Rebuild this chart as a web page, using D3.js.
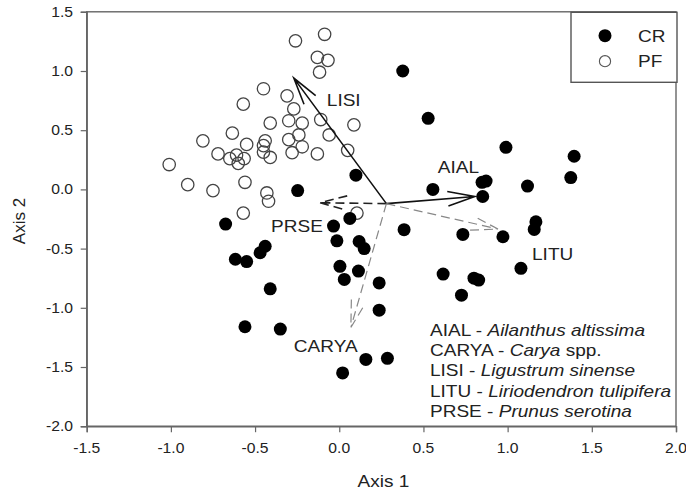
<!DOCTYPE html>
<html>
<head>
<meta charset="utf-8">
<script src="https://cdn.jsdelivr.net/npm/d3@7"></script>
<style>
  html, body { margin: 0; padding: 0; background: #fff; }
  svg { display: block; }
  text { font-family: Arial, "Liberation Sans", sans-serif; fill: #222; }
</style>
</head>
<body>
<svg id="chart" width="686" height="496"></svg>
<script>
// Ordination scores for the two stand types
const crAxis1 = [-0.675,-0.617,-0.55,-0.47,-0.44,-0.41,-0.56,-0.35,-0.034,0.063,-0.014,0.118,0.148,0.004,0.03,0.114,0.237,0.237,0.158,0.02,0.286,-0.247,0.099,0.385,0.377,0.528,0.99,1.395,1.375,0.556,0.848,0.872,0.852,1.118,0.734,0.972,1.168,1.158,1.079,0.617,0.80,0.828,0.726];
const crAxis2 = [-0.293,-0.59,-0.61,-0.535,-0.48,-0.84,-1.16,-1.18,-0.31,-0.245,-0.434,-0.44,-0.50,-0.65,-0.76,-0.69,-0.79,-1.02,-1.436,-1.55,-1.427,-0.01,0.12,-0.34,1.00,0.60,0.355,0.28,0.10,0.0,0.06,0.07,-0.06,0.028,-0.38,-0.40,-0.274,-0.338,-0.667,-0.715,-0.75,-0.766,-0.893];
const pfAxis1 = [-1.01,-0.90,-0.75,-0.81,-0.72,-0.635,-0.65,-0.61,-0.565,-0.60,-0.55,-0.56,-0.57,-0.57,-0.45,-0.44,-0.45,-0.45,-0.41,-0.41,-0.31,-0.27,-0.30,-0.22,-0.30,-0.24,-0.28,-0.22,-0.13,-0.11,-0.06,0.087,0.05,-0.26,-0.087,-0.13,-0.067,-0.117,-0.43,-0.42,0.105];
const pfAxis2 = [0.21,0.04,-0.01,0.41,0.30,0.475,0.26,0.29,0.26,0.22,0.38,0.06,-0.20,0.72,0.85,0.41,0.37,0.315,0.27,0.56,0.79,0.68,0.58,0.56,0.42,0.46,0.31,0.36,0.30,0.59,0.46,0.545,0.33,1.255,1.31,1.115,1.09,0.99,-0.03,-0.10,-0.20];

// Species vectors (biplot), all drawn from a shared origin
const vectorOrigin = [0.28, -0.12];
const vectorCodes = ["LISI", "AIAL", "LITU", "PRSE", "CARYA"];
const vectorAxis1 = [-0.27, 0.805, 0.943, -0.114, 0.069];
const vectorAxis2 = [0.94, -0.06, -0.335, -0.113, -1.166];
const vectorStyles = ["solid", "solid", "grayDash", "blackDash", "grayDash"];

// Species key
const keyCodes = ["AIAL", "CARYA", "LISI", "LITU", "PRSE"];
const keyNames = ["Ailanthus altissima", "Carya", "Ligustrum sinense", "Liriodendron tulipifera", "Prunus serotina"];
const keySuffix = ["", " spp.", "", "", ""];

// Axes
const xTickValues = [-1.5, -1.0, -0.5, 0.0, 0.5, 1.0, 1.5, 2.0];
const xTickLabels = ["-1.5", "-1.0", "-0.5", "0.0", "0.5", "1.0", "1.5", "2.0"];
const yTickValues = [-2.0, -1.5, -1.0, -0.5, 0.0, 0.5, 1.0, 1.5];
const yTickLabels = ["-2.0", "-1.5", "-1.0", "-0.5", "0.0", "0.5", "1.0", "1.5"];
const legendGroups = ["CR", "PF"];

const svg = d3.select("#chart");
const pLeft = 86.7, pRight = 676, pTop = 11.8, pBottom = 426.2;
const x = d3.scaleLinear().domain([-1.5, 2.0]).range([pLeft, pRight]);
const y = d3.scaleLinear().domain([-2.0, 1.5]).range([pBottom, pTop]);
const SX = 1.12;   // horizontal stretch of lettering

function label(g, px, py, str, size, anchor) {
  return g.append("text")
    .attr("transform", `translate(${px},${py}) scale(${SX},1)`)
    .attr("text-anchor", anchor || "start")
    .attr("font-size", size)
    .text(str);
}

// Frame
svg.append("rect")
  .attr("x", pLeft).attr("y", pTop)
  .attr("width", pRight - pLeft).attr("height", pBottom - pTop)
  .attr("fill", "none").attr("stroke", "#666").attr("stroke-width", 1.4);

// Axes with outward ticks
const xAxis = svg.append("g").attr("transform", `translate(0,${pBottom})`)
  .call(d3.axisBottom(x).tickValues(xTickValues).tickSize(6).tickFormat(""));
const yAxis = svg.append("g").attr("transform", `translate(${pLeft},0)`)
  .call(d3.axisLeft(y).tickValues(yTickValues).tickSize(6).tickFormat(""));
[xAxis, yAxis].forEach(a => {
  a.select(".domain").attr("stroke", "#666").attr("stroke-width", 1.4);
  a.selectAll(".tick line").attr("stroke", "#666").attr("stroke-width", 1.2);
});

const txt = svg.append("g");
xTickValues.forEach((v, i) => label(txt, x(v), 453, xTickLabels[i], 14, "middle"));
yTickValues.forEach((v, i) => label(txt, 73, y(v) + 5, yTickLabels[i], 14, "end"));

label(txt, (pLeft + pRight) / 2 + 2, 487, "Axis 1", 17, "middle");
txt.append("text")
  .attr("transform", `translate(25,${(pTop + pBottom) / 2 + 2}) rotate(-90)`)
  .attr("text-anchor", "middle").attr("font-size", 17)
  .text("Axis 2");

// Points
const pts = svg.append("g");
pts.selectAll("circle.pf").data(d3.zip(pfAxis1, pfAxis2)).join("circle")
  .attr("class", "pf")
  .attr("cx", d => x(d[0])).attr("cy", d => y(d[1])).attr("r", 6.2)
  .attr("fill", "none").attr("stroke", "#444").attr("stroke-width", 1.3);
pts.selectAll("circle.cr").data(d3.zip(crAxis1, crAxis2)).join("circle")
  .attr("class", "cr")
  .attr("cx", d => x(d[0])).attr("cy", d => y(d[1])).attr("r", 6.5)
  .attr("fill", "#000");

// Vectors
const styleMap = {
  solid: { stroke: "#111", width: 1.6, dash: null },
  blackDash: { stroke: "#222", width: 1.6, dash: "9,5" },
  grayDash: { stroke: "#888", width: 1.2, dash: "9,5" }
};
const labelOffset = {
  LISI: [33, 28], AIAL: [-37, -24], LITU: [34, 31], PRSE: [-49, 29], CARYA: [-57, 25]
};
const headLen = 28, headAngle = 15 * Math.PI / 180;
const vg = svg.append("g").attr("fill", "none");
const ox = x(vectorOrigin[0]), oy = y(vectorOrigin[1]);
vectorCodes.forEach((code, i) => {
  const st = styleMap[vectorStyles[i]];
  const tx = x(vectorAxis1[i]), ty = y(vectorAxis2[i]);
  const ang = Math.atan2(ty - oy, tx - ox);
  const h1 = [tx - headLen * Math.cos(ang - headAngle), ty - headLen * Math.sin(ang - headAngle)];
  const h2 = [tx - headLen * Math.cos(ang + headAngle), ty - headLen * Math.sin(ang + headAngle)];
  const path = d3.path();
  path.moveTo(ox, oy); path.lineTo(tx, ty);
  path.moveTo(h1[0], h1[1]); path.lineTo(tx, ty); path.lineTo(h2[0], h2[1]);
  vg.append("path").attr("d", path.toString())
    .attr("stroke", st.stroke).attr("stroke-width", st.width)
    .attr("stroke-dasharray", st.dash);
  const off = labelOffset[code];
  label(txt, tx + off[0], ty + off[1], code, 17, "start");
});

// Species key
keyCodes.forEach((code, i) => {
  const t = txt.append("text")
    .attr("transform", `translate(430,${336 + i * 20.2}) scale(${SX},1)`)
    .attr("font-size", 17);
  t.append("tspan").text(code + " - ");
  t.append("tspan").attr("font-style", "italic").text(keyNames[i]);
  if (keySuffix[i]) t.append("tspan").text(keySuffix[i]);
});

// Legend
const lg = svg.append("g");
lg.append("rect").attr("x", 571).attr("y", pTop + 0.5).attr("width", 106).attr("height", 70)
  .attr("fill", "#fff").attr("stroke", "#555").attr("stroke-width", 1.4);
legendGroups.forEach((g, i) => {
  const cy = 35.7 + i * 25.5;
  if (i === 0) lg.append("circle").attr("cx", 605).attr("cy", cy).attr("r", 6.5).attr("fill", "#000");
  else lg.append("circle").attr("cx", 605).attr("cy", cy).attr("r", 5.6)
    .attr("fill", "none").attr("stroke", "#555").attr("stroke-width", 1.1);
  label(lg, 638, cy + 6, g, 17, "start");
});
</script>
</body>
</html>
